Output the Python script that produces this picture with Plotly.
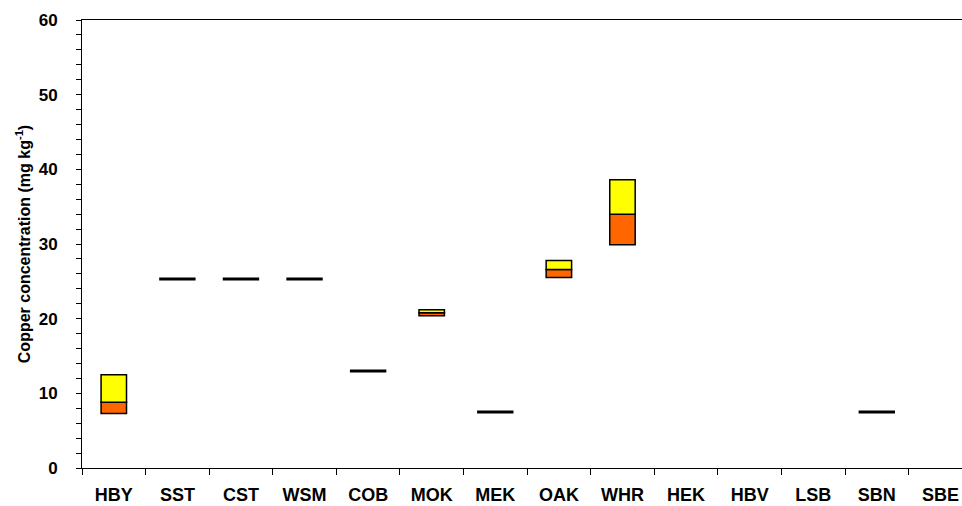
import plotly.graph_objects as go

categories = ["HBY", "SST", "CST", "WSM", "COB", "MOK", "MEK", "OAK", "WHR",
              "HEK", "HBV", "LSB", "SBN", "SBE"]
q1 = [7.3, 25.3, 25.3, 25.3, 13.0, 20.4, 7.5, 25.5, 29.9, None, None, None, 7.5, None]
median = [8.8, 25.3, 25.3, 25.3, 13.0, 20.8, 7.5, 26.6, 34.0, None, None, None, 7.5, None]
q3 = [12.5, 25.3, 25.3, 25.3, 13.0, 21.2, 7.5, 27.8, 38.6, None, None, None, 7.5, None]

box_x, box_q1, box_med, box_q3 = [], [], [], []
flat_x, flat_y = [], []
for c, a, m, b in zip(categories, q1, median, q3):
    if a is None:
        continue
    if b > a:
        box_x.append(c); box_q1.append(a); box_med.append(m); box_q3.append(b)
    else:
        flat_x.append(c); flat_y.append(m)

fig = go.Figure()
fig.add_trace(go.Bar(
    x=box_x, base=box_q1, y=[m - a for a, m in zip(box_q1, box_med)],
    width=0.4, marker=dict(color="#FF6600", line=dict(color="black", width=1.5)),
    showlegend=False, hoverinfo="skip"))
fig.add_trace(go.Bar(
    x=box_x, base=box_med, y=[b - m for m, b in zip(box_med, box_q3)],
    width=0.4, marker=dict(color="#FFFF00", line=dict(color="black", width=1.5)),
    showlegend=False, hoverinfo="skip"))
fig.add_trace(go.Scatter(
    x=flat_x, y=flat_y, mode="markers",
    marker=dict(symbol="line-ew", size=26, line=dict(color="black", width=3)),
    showlegend=False, hoverinfo="skip"))

font_family = "Liberation Sans, Arial, sans-serif"
fig.update_layout(
    width=962, height=506,
    margin=dict(l=82, r=0, t=20, b=38, autoexpand=False),
    plot_bgcolor="white", paper_bgcolor="white",
    barmode="overlay",
    font=dict(family=font_family, color="black"),
)
fig.update_xaxes(
    type="category", categoryorder="array", categoryarray=categories,
    range=[-0.5, 13.34],
    showgrid=False, showline=True, linecolor="black", linewidth=1, mirror=True,
    ticks="outside", tickson="boundaries", ticklen=6, tickcolor="black",
    tickfont=dict(size=18, family=font_family, weight="bold"),
    ticklabelstandoff=10,
)
fig.update_yaxes(
    range=[0, 60], dtick=10, tick0=0,
    showgrid=False, zeroline=False, showline=True, linecolor="black", linewidth=1,
    ticks="outside", ticklen=5, tickcolor="black",
    minor=dict(dtick=2, ticks="outside", ticklen=5, tickcolor="black", showgrid=False),
    tickfont=dict(size=17, family=font_family, weight="bold"),
    ticklabelstandoff=15,
    title=dict(text="Copper concentration (mg kg<sup>-1</sup>)",
               font=dict(size=16, family=font_family, weight="bold"), standoff=4),
)
fig.write_html(
    "out.html",
    config={"displayModeBar": False},
    post_script="document.body.style.margin='0';document.body.style.overflow='hidden';",
)
